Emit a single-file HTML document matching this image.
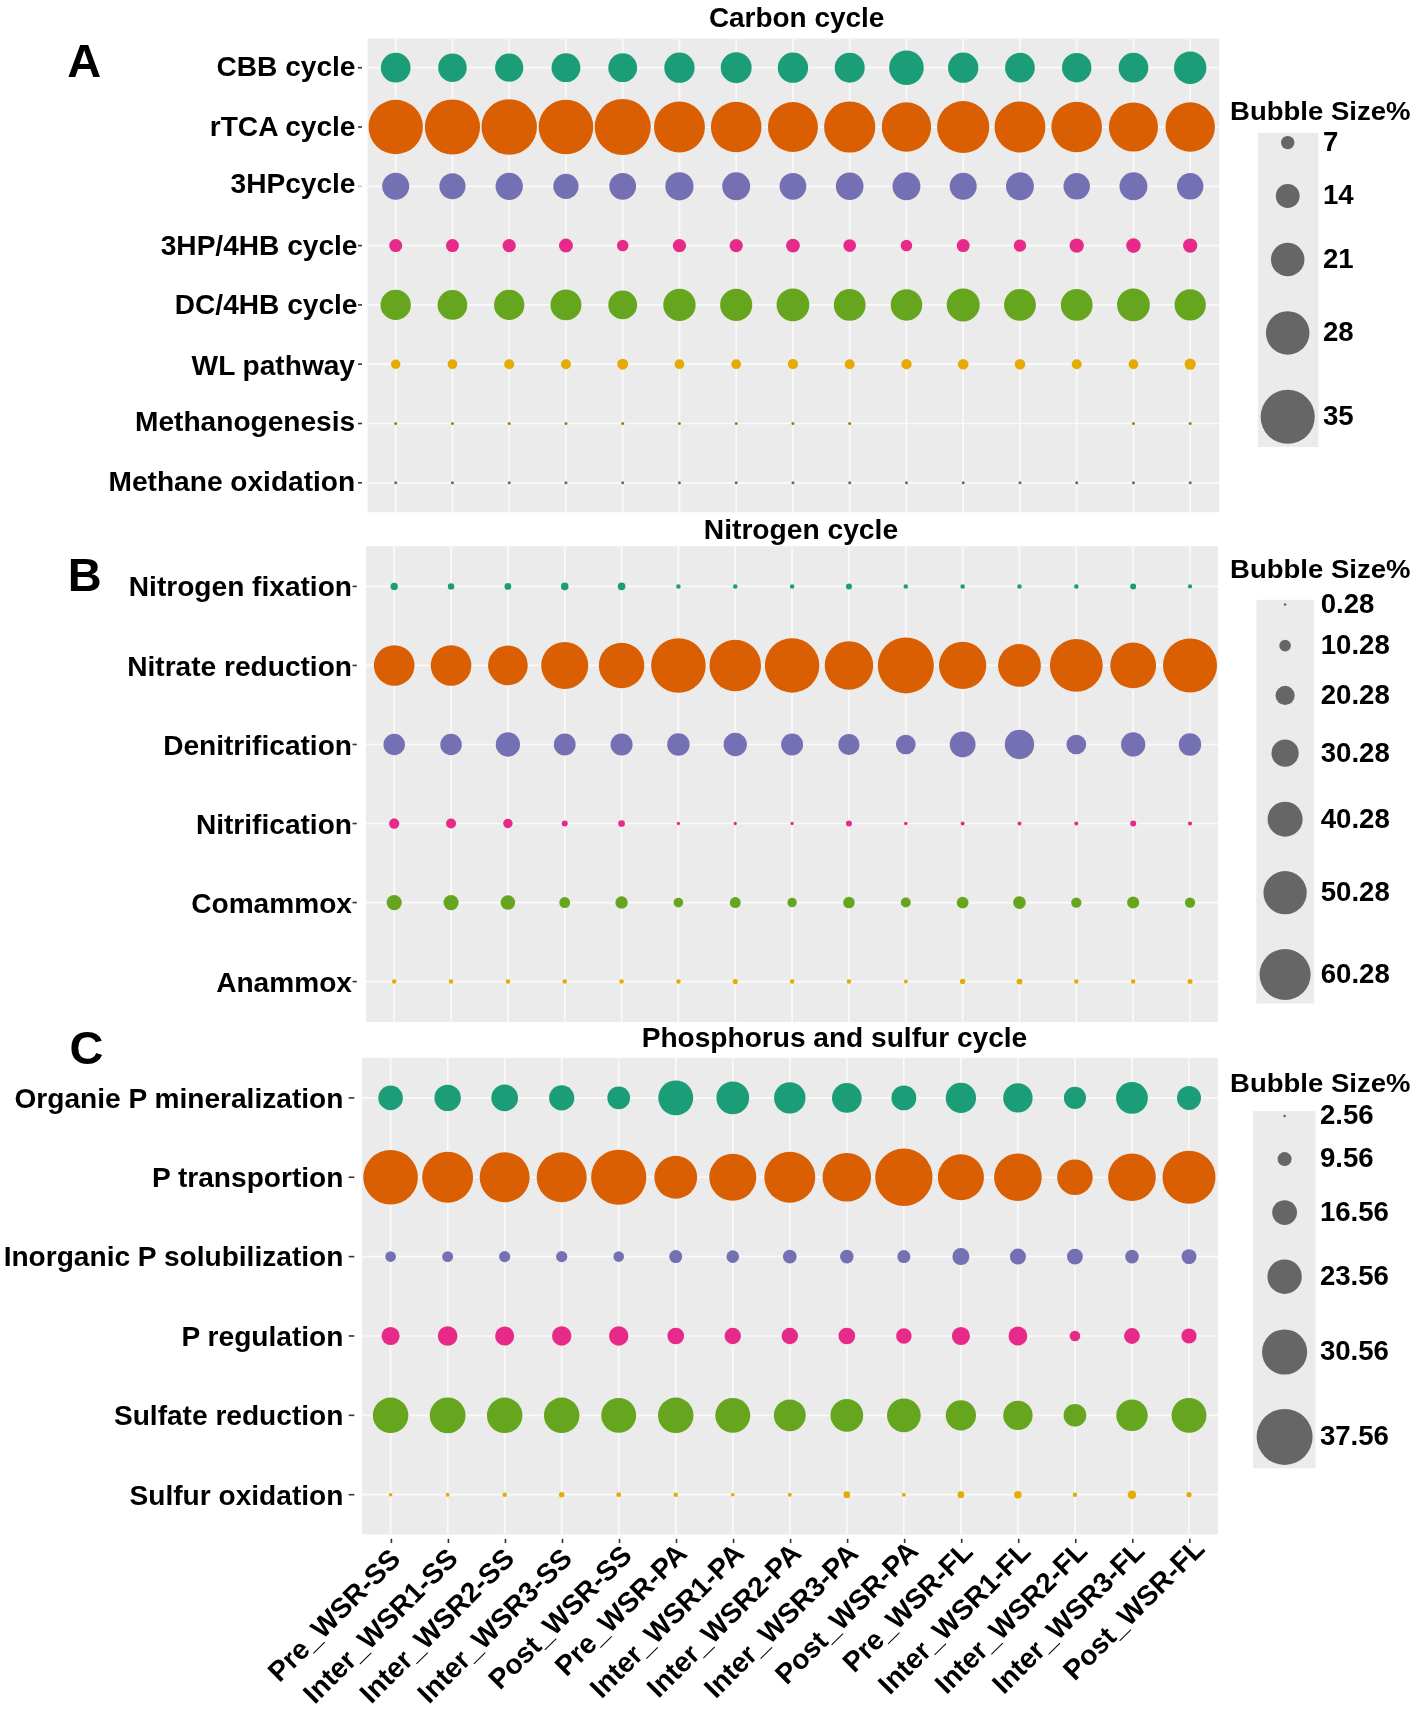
<!DOCTYPE html>
<html><head><meta charset="utf-8"><title>Bubble plot</title>
<style>html,body{margin:0;padding:0;background:#fff;} body{width:1418px;height:1709px;overflow:hidden;}</style>
</head><body>
<svg width="1418" height="1709" viewBox="0 0 1418 1709" style="display:block;will-change:transform">
<rect x="0" y="0" width="1418" height="1709" fill="#FFFFFF"/>
<g font-family="Liberation Sans, sans-serif" font-weight="bold" fill="#000000">
<rect x="367.5" y="38.5" width="851.8" height="473.7" fill="#EBEBEB"/>
<line x1="395.7" y1="38.5" x2="395.7" y2="512.2" stroke="#FAFAFA" stroke-width="1.7"/>
<line x1="452.45" y1="38.5" x2="452.45" y2="512.2" stroke="#FAFAFA" stroke-width="1.7"/>
<line x1="509.2" y1="38.5" x2="509.2" y2="512.2" stroke="#FAFAFA" stroke-width="1.7"/>
<line x1="565.95" y1="38.5" x2="565.95" y2="512.2" stroke="#FAFAFA" stroke-width="1.7"/>
<line x1="622.7" y1="38.5" x2="622.7" y2="512.2" stroke="#FAFAFA" stroke-width="1.7"/>
<line x1="679.45" y1="38.5" x2="679.45" y2="512.2" stroke="#FAFAFA" stroke-width="1.7"/>
<line x1="736.2" y1="38.5" x2="736.2" y2="512.2" stroke="#FAFAFA" stroke-width="1.7"/>
<line x1="792.95" y1="38.5" x2="792.95" y2="512.2" stroke="#FAFAFA" stroke-width="1.7"/>
<line x1="849.7" y1="38.5" x2="849.7" y2="512.2" stroke="#FAFAFA" stroke-width="1.7"/>
<line x1="906.45" y1="38.5" x2="906.45" y2="512.2" stroke="#FAFAFA" stroke-width="1.7"/>
<line x1="963.2" y1="38.5" x2="963.2" y2="512.2" stroke="#FAFAFA" stroke-width="1.7"/>
<line x1="1019.95" y1="38.5" x2="1019.95" y2="512.2" stroke="#FAFAFA" stroke-width="1.7"/>
<line x1="1076.7" y1="38.5" x2="1076.7" y2="512.2" stroke="#FAFAFA" stroke-width="1.7"/>
<line x1="1133.45" y1="38.5" x2="1133.45" y2="512.2" stroke="#FAFAFA" stroke-width="1.7"/>
<line x1="1190.2" y1="38.5" x2="1190.2" y2="512.2" stroke="#FAFAFA" stroke-width="1.7"/>
<line x1="367.5" y1="67.7" x2="1219.3" y2="67.7" stroke="#FAFAFA" stroke-width="1.7"/>
<line x1="367.5" y1="127" x2="1219.3" y2="127" stroke="#FAFAFA" stroke-width="1.7"/>
<line x1="367.5" y1="186.3" x2="1219.3" y2="186.3" stroke="#FAFAFA" stroke-width="1.7"/>
<line x1="367.5" y1="245.6" x2="1219.3" y2="245.6" stroke="#FAFAFA" stroke-width="1.7"/>
<line x1="367.5" y1="304.9" x2="1219.3" y2="304.9" stroke="#FAFAFA" stroke-width="1.7"/>
<line x1="367.5" y1="364.2" x2="1219.3" y2="364.2" stroke="#FAFAFA" stroke-width="1.7"/>
<line x1="367.5" y1="423.5" x2="1219.3" y2="423.5" stroke="#FAFAFA" stroke-width="1.7"/>
<line x1="367.5" y1="482.8" x2="1219.3" y2="482.8" stroke="#FAFAFA" stroke-width="1.7"/>
<circle cx="395.7" cy="67.7" r="14.85" fill="#1B9E77"/>
<circle cx="452.45" cy="67.7" r="14.25" fill="#1B9E77"/>
<circle cx="509.2" cy="67.7" r="14.1" fill="#1B9E77"/>
<circle cx="565.95" cy="67.7" r="14.4" fill="#1B9E77"/>
<circle cx="622.7" cy="67.7" r="14.4" fill="#1B9E77"/>
<circle cx="679.45" cy="67.7" r="15.15" fill="#1B9E77"/>
<circle cx="736.2" cy="67.7" r="15.45" fill="#1B9E77"/>
<circle cx="792.95" cy="67.7" r="15.15" fill="#1B9E77"/>
<circle cx="849.7" cy="67.7" r="15" fill="#1B9E77"/>
<circle cx="906.45" cy="67.7" r="17.3" fill="#1B9E77"/>
<circle cx="963.2" cy="67.7" r="15.15" fill="#1B9E77"/>
<circle cx="1019.95" cy="67.7" r="14.85" fill="#1B9E77"/>
<circle cx="1076.7" cy="67.7" r="14.7" fill="#1B9E77"/>
<circle cx="1133.45" cy="67.7" r="14.85" fill="#1B9E77"/>
<circle cx="1190.2" cy="67.7" r="16.2" fill="#1B9E77"/>
<circle cx="395.7" cy="127" r="27.15" fill="#D95F02"/>
<circle cx="452.45" cy="127" r="27.6" fill="#D95F02"/>
<circle cx="509.2" cy="127" r="27.75" fill="#D95F02"/>
<circle cx="565.95" cy="127" r="27.3" fill="#D95F02"/>
<circle cx="622.7" cy="127" r="28.05" fill="#D95F02"/>
<circle cx="679.45" cy="127" r="25.45" fill="#D95F02"/>
<circle cx="736.2" cy="127" r="25.3" fill="#D95F02"/>
<circle cx="792.95" cy="127" r="25" fill="#D95F02"/>
<circle cx="849.7" cy="127" r="25.6" fill="#D95F02"/>
<circle cx="906.45" cy="127" r="24.7" fill="#D95F02"/>
<circle cx="963.2" cy="127" r="26.1" fill="#D95F02"/>
<circle cx="1019.95" cy="127" r="25.45" fill="#D95F02"/>
<circle cx="1076.7" cy="127" r="25.3" fill="#D95F02"/>
<circle cx="1133.45" cy="127" r="24.55" fill="#D95F02"/>
<circle cx="1190.2" cy="127" r="24.7" fill="#D95F02"/>
<circle cx="395.7" cy="186.3" r="13.5" fill="#7570B3"/>
<circle cx="452.45" cy="186.3" r="13.05" fill="#7570B3"/>
<circle cx="509.2" cy="186.3" r="13.65" fill="#7570B3"/>
<circle cx="565.95" cy="186.3" r="12.6" fill="#7570B3"/>
<circle cx="622.7" cy="186.3" r="13.35" fill="#7570B3"/>
<circle cx="679.45" cy="186.3" r="14.1" fill="#7570B3"/>
<circle cx="736.2" cy="186.3" r="13.95" fill="#7570B3"/>
<circle cx="792.95" cy="186.3" r="13.35" fill="#7570B3"/>
<circle cx="849.7" cy="186.3" r="13.8" fill="#7570B3"/>
<circle cx="906.45" cy="186.3" r="13.95" fill="#7570B3"/>
<circle cx="963.2" cy="186.3" r="13.5" fill="#7570B3"/>
<circle cx="1019.95" cy="186.3" r="13.95" fill="#7570B3"/>
<circle cx="1076.7" cy="186.3" r="13.2" fill="#7570B3"/>
<circle cx="1133.45" cy="186.3" r="13.95" fill="#7570B3"/>
<circle cx="1190.2" cy="186.3" r="13.2" fill="#7570B3"/>
<circle cx="395.7" cy="245.6" r="6.5" fill="#E7298A"/>
<circle cx="452.45" cy="245.6" r="6.5" fill="#E7298A"/>
<circle cx="509.2" cy="245.6" r="6.65" fill="#E7298A"/>
<circle cx="565.95" cy="245.6" r="7" fill="#E7298A"/>
<circle cx="622.7" cy="245.6" r="5.75" fill="#E7298A"/>
<circle cx="679.45" cy="245.6" r="6.65" fill="#E7298A"/>
<circle cx="736.2" cy="245.6" r="6.65" fill="#E7298A"/>
<circle cx="792.95" cy="245.6" r="6.9" fill="#E7298A"/>
<circle cx="849.7" cy="245.6" r="6.35" fill="#E7298A"/>
<circle cx="906.45" cy="245.6" r="5.75" fill="#E7298A"/>
<circle cx="963.2" cy="245.6" r="6.5" fill="#E7298A"/>
<circle cx="1019.95" cy="245.6" r="6.2" fill="#E7298A"/>
<circle cx="1076.7" cy="245.6" r="7.15" fill="#E7298A"/>
<circle cx="1133.45" cy="245.6" r="7.3" fill="#E7298A"/>
<circle cx="1190.2" cy="245.6" r="7.15" fill="#E7298A"/>
<circle cx="395.7" cy="304.9" r="15.15" fill="#66A61E"/>
<circle cx="452.45" cy="304.9" r="14.85" fill="#66A61E"/>
<circle cx="509.2" cy="304.9" r="15.15" fill="#66A61E"/>
<circle cx="565.95" cy="304.9" r="15.45" fill="#66A61E"/>
<circle cx="622.7" cy="304.9" r="14.4" fill="#66A61E"/>
<circle cx="679.45" cy="304.9" r="16.2" fill="#66A61E"/>
<circle cx="736.2" cy="304.9" r="16.05" fill="#66A61E"/>
<circle cx="792.95" cy="304.9" r="16.35" fill="#66A61E"/>
<circle cx="849.7" cy="304.9" r="15.9" fill="#66A61E"/>
<circle cx="906.45" cy="304.9" r="15.75" fill="#66A61E"/>
<circle cx="963.2" cy="304.9" r="16.5" fill="#66A61E"/>
<circle cx="1019.95" cy="304.9" r="15.9" fill="#66A61E"/>
<circle cx="1076.7" cy="304.9" r="15.9" fill="#66A61E"/>
<circle cx="1133.45" cy="304.9" r="16.35" fill="#66A61E"/>
<circle cx="1190.2" cy="304.9" r="15.6" fill="#66A61E"/>
<circle cx="395.7" cy="364.2" r="4.7" fill="#E6AB02"/>
<circle cx="452.45" cy="364.2" r="4.85" fill="#E6AB02"/>
<circle cx="509.2" cy="364.2" r="5" fill="#E6AB02"/>
<circle cx="565.95" cy="364.2" r="5" fill="#E6AB02"/>
<circle cx="622.7" cy="364.2" r="5.45" fill="#E6AB02"/>
<circle cx="679.45" cy="364.2" r="4.85" fill="#E6AB02"/>
<circle cx="736.2" cy="364.2" r="4.85" fill="#E6AB02"/>
<circle cx="792.95" cy="364.2" r="5.1" fill="#E6AB02"/>
<circle cx="849.7" cy="364.2" r="5" fill="#E6AB02"/>
<circle cx="906.45" cy="364.2" r="5.15" fill="#E6AB02"/>
<circle cx="963.2" cy="364.2" r="5.3" fill="#E6AB02"/>
<circle cx="1019.95" cy="364.2" r="5.3" fill="#E6AB02"/>
<circle cx="1076.7" cy="364.2" r="5" fill="#E6AB02"/>
<circle cx="1133.45" cy="364.2" r="4.85" fill="#E6AB02"/>
<circle cx="1190.2" cy="364.2" r="5.6" fill="#E6AB02"/>
<circle cx="395.7" cy="423.5" r="1.5" fill="#A6761D"/>
<circle cx="452.45" cy="423.5" r="1.5" fill="#A6761D"/>
<circle cx="509.2" cy="423.5" r="1.5" fill="#A6761D"/>
<circle cx="565.95" cy="423.5" r="1.5" fill="#A6761D"/>
<circle cx="622.7" cy="423.5" r="1.5" fill="#A6761D"/>
<circle cx="679.45" cy="423.5" r="1.5" fill="#A6761D"/>
<circle cx="736.2" cy="423.5" r="1.5" fill="#A6761D"/>
<circle cx="792.95" cy="423.5" r="1.5" fill="#A6761D"/>
<circle cx="849.7" cy="423.5" r="1.5" fill="#A6761D"/>
<circle cx="1133.45" cy="423.5" r="1.5" fill="#A6761D"/>
<circle cx="1190.2" cy="423.5" r="1.5" fill="#A6761D"/>
<circle cx="395.7" cy="482.8" r="1.5" fill="#666666"/>
<circle cx="452.45" cy="482.8" r="1.5" fill="#666666"/>
<circle cx="509.2" cy="482.8" r="1.5" fill="#666666"/>
<circle cx="565.95" cy="482.8" r="1.5" fill="#666666"/>
<circle cx="622.7" cy="482.8" r="1.5" fill="#666666"/>
<circle cx="679.45" cy="482.8" r="1.5" fill="#666666"/>
<circle cx="736.2" cy="482.8" r="1.5" fill="#666666"/>
<circle cx="792.95" cy="482.8" r="1.5" fill="#666666"/>
<circle cx="849.7" cy="482.8" r="1.5" fill="#666666"/>
<circle cx="906.45" cy="482.8" r="1.5" fill="#666666"/>
<circle cx="963.2" cy="482.8" r="1.5" fill="#666666"/>
<circle cx="1019.95" cy="482.8" r="1.5" fill="#666666"/>
<circle cx="1076.7" cy="482.8" r="1.5" fill="#666666"/>
<circle cx="1133.45" cy="482.8" r="1.5" fill="#666666"/>
<circle cx="1190.2" cy="482.8" r="1.5" fill="#666666"/>
<text x="355.5" y="75.7" font-size="28.1" text-anchor="end">CBB cycle</text>
<line x1="358" y1="67.7" x2="362" y2="67.7" stroke="#333333" stroke-width="1.6"/>
<text x="355.5" y="135.6" font-size="28.1" text-anchor="end">rTCA cycle</text>
<line x1="358" y1="127" x2="362" y2="127" stroke="#333333" stroke-width="1.6"/>
<text x="355.5" y="192.6" font-size="28.1" text-anchor="end">3HPcycle</text>
<line x1="358" y1="186.3" x2="362" y2="186.3" stroke="#C8C8C8" stroke-width="1.6"/>
<text x="357.5" y="255.4" font-size="28.1" text-anchor="end">3HP/4HB cycle</text>
<line x1="358" y1="245.6" x2="362" y2="245.6" stroke="#333333" stroke-width="1.6"/>
<text x="357.5" y="313.8" font-size="28.1" text-anchor="end">DC/4HB cycle</text>
<line x1="358" y1="304.9" x2="362" y2="304.9" stroke="#333333" stroke-width="1.6"/>
<text x="355" y="374.6" font-size="28.1" text-anchor="end">WL pathway</text>
<line x1="358" y1="364.2" x2="362" y2="364.2" stroke="#333333" stroke-width="1.6"/>
<text x="355.2" y="431" font-size="28.1" text-anchor="end">Methanogenesis</text>
<line x1="358" y1="423.5" x2="362" y2="423.5" stroke="#333333" stroke-width="1.6"/>
<text x="355.2" y="491.4" font-size="28.1" text-anchor="end">Methane oxidation</text>
<line x1="358" y1="482.8" x2="362" y2="482.8" stroke="#333333" stroke-width="1.6"/>
<text x="796.65" y="27.1" font-size="27.95" text-anchor="middle">Carbon cycle</text>
<text x="67.3" y="76.6" font-size="47">A</text>
<text x="1230" y="119.6" font-size="26" textLength="180.5" lengthAdjust="spacingAndGlyphs">Bubble Size%</text>
<rect x="1257.9" y="132.9" width="60.6" height="314.2" fill="#EBEBEB"/>
<circle cx="1287.7" cy="142.6" r="6.7" fill="#666666"/>
<text x="1322.9" y="150.9" font-size="27.6">7</text>
<circle cx="1287.7" cy="196" r="11.9" fill="#666666"/>
<text x="1322.9" y="204.3" font-size="27.6">14</text>
<circle cx="1287.7" cy="259.5" r="16.75" fill="#666666"/>
<text x="1322.9" y="267.8" font-size="27.6">21</text>
<circle cx="1287.7" cy="332.9" r="21.75" fill="#666666"/>
<text x="1322.9" y="341.2" font-size="27.6">28</text>
<circle cx="1287.7" cy="416.8" r="27.05" fill="#666666"/>
<text x="1322.9" y="425.1" font-size="27.6">35</text>
<rect x="366" y="546.2" width="852" height="475.8" fill="#EBEBEB"/>
<line x1="394.2" y1="546.2" x2="394.2" y2="1022" stroke="#FAFAFA" stroke-width="1.7"/>
<line x1="451.04" y1="546.2" x2="451.04" y2="1022" stroke="#FAFAFA" stroke-width="1.7"/>
<line x1="507.89" y1="546.2" x2="507.89" y2="1022" stroke="#FAFAFA" stroke-width="1.7"/>
<line x1="564.73" y1="546.2" x2="564.73" y2="1022" stroke="#FAFAFA" stroke-width="1.7"/>
<line x1="621.57" y1="546.2" x2="621.57" y2="1022" stroke="#FAFAFA" stroke-width="1.7"/>
<line x1="678.41" y1="546.2" x2="678.41" y2="1022" stroke="#FAFAFA" stroke-width="1.7"/>
<line x1="735.26" y1="546.2" x2="735.26" y2="1022" stroke="#FAFAFA" stroke-width="1.7"/>
<line x1="792.1" y1="546.2" x2="792.1" y2="1022" stroke="#FAFAFA" stroke-width="1.7"/>
<line x1="848.94" y1="546.2" x2="848.94" y2="1022" stroke="#FAFAFA" stroke-width="1.7"/>
<line x1="905.79" y1="546.2" x2="905.79" y2="1022" stroke="#FAFAFA" stroke-width="1.7"/>
<line x1="962.63" y1="546.2" x2="962.63" y2="1022" stroke="#FAFAFA" stroke-width="1.7"/>
<line x1="1019.47" y1="546.2" x2="1019.47" y2="1022" stroke="#FAFAFA" stroke-width="1.7"/>
<line x1="1076.31" y1="546.2" x2="1076.31" y2="1022" stroke="#FAFAFA" stroke-width="1.7"/>
<line x1="1133.16" y1="546.2" x2="1133.16" y2="1022" stroke="#FAFAFA" stroke-width="1.7"/>
<line x1="1190" y1="546.2" x2="1190" y2="1022" stroke="#FAFAFA" stroke-width="1.7"/>
<line x1="366" y1="586.4" x2="1218" y2="586.4" stroke="#FAFAFA" stroke-width="1.7"/>
<line x1="366" y1="665.44" x2="1218" y2="665.44" stroke="#FAFAFA" stroke-width="1.7"/>
<line x1="366" y1="744.48" x2="1218" y2="744.48" stroke="#FAFAFA" stroke-width="1.7"/>
<line x1="366" y1="823.52" x2="1218" y2="823.52" stroke="#FAFAFA" stroke-width="1.7"/>
<line x1="366" y1="902.56" x2="1218" y2="902.56" stroke="#FAFAFA" stroke-width="1.7"/>
<line x1="366" y1="981.6" x2="1218" y2="981.6" stroke="#FAFAFA" stroke-width="1.7"/>
<circle cx="394.2" cy="586.4" r="3.65" fill="#1B9E77"/>
<circle cx="451.04" cy="586.4" r="3.2" fill="#1B9E77"/>
<circle cx="507.89" cy="586.4" r="3.35" fill="#1B9E77"/>
<circle cx="564.73" cy="586.4" r="3.8" fill="#1B9E77"/>
<circle cx="621.57" cy="586.4" r="3.8" fill="#1B9E77"/>
<circle cx="678.41" cy="586.4" r="2.25" fill="#1B9E77"/>
<circle cx="735.26" cy="586.4" r="2.25" fill="#1B9E77"/>
<circle cx="792.1" cy="586.4" r="2.25" fill="#1B9E77"/>
<circle cx="848.94" cy="586.4" r="3" fill="#1B9E77"/>
<circle cx="905.79" cy="586.4" r="2.25" fill="#1B9E77"/>
<circle cx="962.63" cy="586.4" r="2.25" fill="#1B9E77"/>
<circle cx="1019.47" cy="586.4" r="2.25" fill="#1B9E77"/>
<circle cx="1076.31" cy="586.4" r="2.25" fill="#1B9E77"/>
<circle cx="1133.16" cy="586.4" r="3" fill="#1B9E77"/>
<circle cx="1190" cy="586.4" r="2.1" fill="#1B9E77"/>
<circle cx="394.2" cy="665.44" r="20.3" fill="#D95F02"/>
<circle cx="451.04" cy="665.44" r="20.3" fill="#D95F02"/>
<circle cx="507.89" cy="665.44" r="19.85" fill="#D95F02"/>
<circle cx="564.73" cy="665.44" r="23.5" fill="#D95F02"/>
<circle cx="621.57" cy="665.44" r="22.75" fill="#D95F02"/>
<circle cx="678.41" cy="665.44" r="27.3" fill="#D95F02"/>
<circle cx="735.26" cy="665.44" r="25.75" fill="#D95F02"/>
<circle cx="792.1" cy="665.44" r="27.25" fill="#D95F02"/>
<circle cx="848.94" cy="665.44" r="24.25" fill="#D95F02"/>
<circle cx="905.79" cy="665.44" r="28.05" fill="#D95F02"/>
<circle cx="962.63" cy="665.44" r="23.65" fill="#D95F02"/>
<circle cx="1019.47" cy="665.44" r="21.4" fill="#D95F02"/>
<circle cx="1076.31" cy="665.44" r="26.4" fill="#D95F02"/>
<circle cx="1133.16" cy="665.44" r="22.9" fill="#D95F02"/>
<circle cx="1190" cy="665.44" r="27" fill="#D95F02"/>
<circle cx="394.2" cy="744.48" r="10.75" fill="#7570B3"/>
<circle cx="451.04" cy="744.48" r="10.75" fill="#7570B3"/>
<circle cx="507.89" cy="744.48" r="12.15" fill="#7570B3"/>
<circle cx="564.73" cy="744.48" r="10.9" fill="#7570B3"/>
<circle cx="621.57" cy="744.48" r="11.05" fill="#7570B3"/>
<circle cx="678.41" cy="744.48" r="11.2" fill="#7570B3"/>
<circle cx="735.26" cy="744.48" r="11.65" fill="#7570B3"/>
<circle cx="792.1" cy="744.48" r="11" fill="#7570B3"/>
<circle cx="848.94" cy="744.48" r="10.6" fill="#7570B3"/>
<circle cx="905.79" cy="744.48" r="9.85" fill="#7570B3"/>
<circle cx="962.63" cy="744.48" r="12.9" fill="#7570B3"/>
<circle cx="1019.47" cy="744.48" r="14.7" fill="#7570B3"/>
<circle cx="1076.31" cy="744.48" r="9.85" fill="#7570B3"/>
<circle cx="1133.16" cy="744.48" r="12.15" fill="#7570B3"/>
<circle cx="1190" cy="744.48" r="11.2" fill="#7570B3"/>
<circle cx="394.2" cy="823.52" r="5.15" fill="#E7298A"/>
<circle cx="451.04" cy="823.52" r="5" fill="#E7298A"/>
<circle cx="507.89" cy="823.52" r="4.7" fill="#E7298A"/>
<circle cx="564.73" cy="823.52" r="3" fill="#E7298A"/>
<circle cx="621.57" cy="823.52" r="3.35" fill="#E7298A"/>
<circle cx="678.41" cy="823.52" r="1.65" fill="#E7298A"/>
<circle cx="735.26" cy="823.52" r="1.65" fill="#E7298A"/>
<circle cx="792.1" cy="823.52" r="1.65" fill="#E7298A"/>
<circle cx="848.94" cy="823.52" r="3" fill="#E7298A"/>
<circle cx="905.79" cy="823.52" r="1.8" fill="#E7298A"/>
<circle cx="962.63" cy="823.52" r="1.95" fill="#E7298A"/>
<circle cx="1019.47" cy="823.52" r="1.95" fill="#E7298A"/>
<circle cx="1076.31" cy="823.52" r="1.95" fill="#E7298A"/>
<circle cx="1133.16" cy="823.52" r="3" fill="#E7298A"/>
<circle cx="1190" cy="823.52" r="2.1" fill="#E7298A"/>
<circle cx="394.2" cy="902.56" r="7.6" fill="#66A61E"/>
<circle cx="451.04" cy="902.56" r="7.6" fill="#66A61E"/>
<circle cx="507.89" cy="902.56" r="7.3" fill="#66A61E"/>
<circle cx="564.73" cy="902.56" r="5.45" fill="#66A61E"/>
<circle cx="621.57" cy="902.56" r="6.2" fill="#66A61E"/>
<circle cx="678.41" cy="902.56" r="4.85" fill="#66A61E"/>
<circle cx="735.26" cy="902.56" r="5.45" fill="#66A61E"/>
<circle cx="792.1" cy="902.56" r="4.7" fill="#66A61E"/>
<circle cx="848.94" cy="902.56" r="5.75" fill="#66A61E"/>
<circle cx="905.79" cy="902.56" r="5" fill="#66A61E"/>
<circle cx="962.63" cy="902.56" r="5.9" fill="#66A61E"/>
<circle cx="1019.47" cy="902.56" r="6.35" fill="#66A61E"/>
<circle cx="1076.31" cy="902.56" r="5.15" fill="#66A61E"/>
<circle cx="1133.16" cy="902.56" r="6.05" fill="#66A61E"/>
<circle cx="1190" cy="902.56" r="5.15" fill="#66A61E"/>
<circle cx="394.2" cy="981.6" r="2.25" fill="#E6AB02"/>
<circle cx="451.04" cy="981.6" r="2.25" fill="#E6AB02"/>
<circle cx="507.89" cy="981.6" r="2.25" fill="#E6AB02"/>
<circle cx="564.73" cy="981.6" r="2.25" fill="#E6AB02"/>
<circle cx="621.57" cy="981.6" r="2.25" fill="#E6AB02"/>
<circle cx="678.41" cy="981.6" r="2.25" fill="#E6AB02"/>
<circle cx="735.26" cy="981.6" r="2.6" fill="#E6AB02"/>
<circle cx="792.1" cy="981.6" r="2.25" fill="#E6AB02"/>
<circle cx="848.94" cy="981.6" r="2.25" fill="#E6AB02"/>
<circle cx="905.79" cy="981.6" r="2" fill="#E6AB02"/>
<circle cx="962.63" cy="981.6" r="2.75" fill="#E6AB02"/>
<circle cx="1019.47" cy="981.6" r="2.9" fill="#E6AB02"/>
<circle cx="1076.31" cy="981.6" r="2.25" fill="#E6AB02"/>
<circle cx="1133.16" cy="981.6" r="2.25" fill="#E6AB02"/>
<circle cx="1190" cy="981.6" r="2.5" fill="#E6AB02"/>
<text x="352" y="596" font-size="28.1" text-anchor="end">Nitrogen fixation</text>
<line x1="352.5" y1="586.4" x2="356.8" y2="586.4" stroke="#333333" stroke-width="1.6"/>
<text x="352" y="675.8" font-size="28.1" text-anchor="end">Nitrate reduction</text>
<line x1="352.5" y1="665.44" x2="356.8" y2="665.44" stroke="#333333" stroke-width="1.6"/>
<text x="352" y="754.9" font-size="28.1" text-anchor="end">Denitrification</text>
<line x1="352.5" y1="744.48" x2="356.8" y2="744.48" stroke="#333333" stroke-width="1.6"/>
<text x="352" y="834.1" font-size="28.1" text-anchor="end">Nitrification</text>
<line x1="352.5" y1="823.52" x2="356.8" y2="823.52" stroke="#333333" stroke-width="1.6"/>
<text x="352" y="912.6" font-size="28.1" text-anchor="end">Comammox</text>
<line x1="352.5" y1="902.56" x2="356.8" y2="902.56" stroke="#333333" stroke-width="1.6"/>
<text x="352" y="992.4" font-size="28.1" text-anchor="end">Anammox</text>
<line x1="352.5" y1="981.6" x2="356.8" y2="981.6" stroke="#333333" stroke-width="1.6"/>
<text x="800.95" y="539.2" font-size="28.2" text-anchor="middle">Nitrogen cycle</text>
<text x="67.7" y="590.6" font-size="47">B</text>
<text x="1230" y="577.7" font-size="26" textLength="180.5" lengthAdjust="spacingAndGlyphs">Bubble Size%</text>
<rect x="1256.3" y="599.8" width="57.9" height="403.8" fill="#EBEBEB"/>
<circle cx="1285.1" cy="604.6" r="1.3" fill="#666666"/>
<text x="1320.7" y="612.9" font-size="27.6">0.28</text>
<circle cx="1285.1" cy="645.6" r="5.8" fill="#666666"/>
<text x="1320.7" y="653.9" font-size="27.6">10.28</text>
<circle cx="1285.1" cy="695.4" r="9.55" fill="#666666"/>
<text x="1320.7" y="703.7" font-size="27.6">20.28</text>
<circle cx="1285.1" cy="753.2" r="13.6" fill="#666666"/>
<text x="1320.7" y="761.5" font-size="27.6">30.28</text>
<circle cx="1285.1" cy="819.2" r="17.5" fill="#666666"/>
<text x="1320.7" y="827.5" font-size="27.6">40.28</text>
<circle cx="1285.1" cy="892.7" r="21.65" fill="#666666"/>
<text x="1320.7" y="901" font-size="27.6">50.28</text>
<circle cx="1285.1" cy="974.5" r="25.55" fill="#666666"/>
<text x="1320.7" y="982.8" font-size="27.6">60.28</text>
<rect x="362.1" y="1057.9" width="855.8" height="476.6" fill="#EBEBEB"/>
<line x1="390.6" y1="1057.9" x2="390.6" y2="1534.5" stroke="#FAFAFA" stroke-width="1.7"/>
<line x1="447.63" y1="1057.9" x2="447.63" y2="1534.5" stroke="#FAFAFA" stroke-width="1.7"/>
<line x1="504.66" y1="1057.9" x2="504.66" y2="1534.5" stroke="#FAFAFA" stroke-width="1.7"/>
<line x1="561.69" y1="1057.9" x2="561.69" y2="1534.5" stroke="#FAFAFA" stroke-width="1.7"/>
<line x1="618.71" y1="1057.9" x2="618.71" y2="1534.5" stroke="#FAFAFA" stroke-width="1.7"/>
<line x1="675.74" y1="1057.9" x2="675.74" y2="1534.5" stroke="#FAFAFA" stroke-width="1.7"/>
<line x1="732.77" y1="1057.9" x2="732.77" y2="1534.5" stroke="#FAFAFA" stroke-width="1.7"/>
<line x1="789.8" y1="1057.9" x2="789.8" y2="1534.5" stroke="#FAFAFA" stroke-width="1.7"/>
<line x1="846.83" y1="1057.9" x2="846.83" y2="1534.5" stroke="#FAFAFA" stroke-width="1.7"/>
<line x1="903.86" y1="1057.9" x2="903.86" y2="1534.5" stroke="#FAFAFA" stroke-width="1.7"/>
<line x1="960.89" y1="1057.9" x2="960.89" y2="1534.5" stroke="#FAFAFA" stroke-width="1.7"/>
<line x1="1017.91" y1="1057.9" x2="1017.91" y2="1534.5" stroke="#FAFAFA" stroke-width="1.7"/>
<line x1="1074.94" y1="1057.9" x2="1074.94" y2="1534.5" stroke="#FAFAFA" stroke-width="1.7"/>
<line x1="1131.97" y1="1057.9" x2="1131.97" y2="1534.5" stroke="#FAFAFA" stroke-width="1.7"/>
<line x1="1189" y1="1057.9" x2="1189" y2="1534.5" stroke="#FAFAFA" stroke-width="1.7"/>
<line x1="362.1" y1="1097.9" x2="1217.9" y2="1097.9" stroke="#FAFAFA" stroke-width="1.7"/>
<line x1="362.1" y1="1177.26" x2="1217.9" y2="1177.26" stroke="#FAFAFA" stroke-width="1.7"/>
<line x1="362.1" y1="1256.62" x2="1217.9" y2="1256.62" stroke="#FAFAFA" stroke-width="1.7"/>
<line x1="362.1" y1="1335.98" x2="1217.9" y2="1335.98" stroke="#FAFAFA" stroke-width="1.7"/>
<line x1="362.1" y1="1415.34" x2="1217.9" y2="1415.34" stroke="#FAFAFA" stroke-width="1.7"/>
<line x1="362.1" y1="1494.7" x2="1217.9" y2="1494.7" stroke="#FAFAFA" stroke-width="1.7"/>
<circle cx="390.6" cy="1097.9" r="12.3" fill="#1B9E77"/>
<circle cx="447.63" cy="1097.9" r="13.2" fill="#1B9E77"/>
<circle cx="504.66" cy="1097.9" r="13.35" fill="#1B9E77"/>
<circle cx="561.69" cy="1097.9" r="12.6" fill="#1B9E77"/>
<circle cx="618.71" cy="1097.9" r="11.35" fill="#1B9E77"/>
<circle cx="675.74" cy="1097.9" r="17.45" fill="#1B9E77"/>
<circle cx="732.77" cy="1097.9" r="16.35" fill="#1B9E77"/>
<circle cx="789.8" cy="1097.9" r="15.7" fill="#1B9E77"/>
<circle cx="846.83" cy="1097.9" r="14.85" fill="#1B9E77"/>
<circle cx="903.86" cy="1097.9" r="12.45" fill="#1B9E77"/>
<circle cx="960.89" cy="1097.9" r="15.15" fill="#1B9E77"/>
<circle cx="1017.91" cy="1097.9" r="14.7" fill="#1B9E77"/>
<circle cx="1074.94" cy="1097.9" r="11.05" fill="#1B9E77"/>
<circle cx="1131.97" cy="1097.9" r="15.9" fill="#1B9E77"/>
<circle cx="1189" cy="1097.9" r="12" fill="#1B9E77"/>
<circle cx="390.6" cy="1177.26" r="27.3" fill="#D95F02"/>
<circle cx="447.63" cy="1177.26" r="25.45" fill="#D95F02"/>
<circle cx="504.66" cy="1177.26" r="25" fill="#D95F02"/>
<circle cx="561.69" cy="1177.26" r="25" fill="#D95F02"/>
<circle cx="618.71" cy="1177.26" r="27.6" fill="#D95F02"/>
<circle cx="675.74" cy="1177.26" r="21.4" fill="#D95F02"/>
<circle cx="732.77" cy="1177.26" r="23.5" fill="#D95F02"/>
<circle cx="789.8" cy="1177.26" r="25.45" fill="#D95F02"/>
<circle cx="846.83" cy="1177.26" r="24.25" fill="#D95F02"/>
<circle cx="903.86" cy="1177.26" r="28.65" fill="#D95F02"/>
<circle cx="960.89" cy="1177.26" r="23.05" fill="#D95F02"/>
<circle cx="1017.91" cy="1177.26" r="23.8" fill="#D95F02"/>
<circle cx="1074.94" cy="1177.26" r="17.75" fill="#D95F02"/>
<circle cx="1131.97" cy="1177.26" r="23.8" fill="#D95F02"/>
<circle cx="1189" cy="1177.26" r="26.5" fill="#D95F02"/>
<circle cx="390.6" cy="1256.62" r="5.3" fill="#7570B3"/>
<circle cx="447.63" cy="1256.62" r="5.45" fill="#7570B3"/>
<circle cx="504.66" cy="1256.62" r="5.6" fill="#7570B3"/>
<circle cx="561.69" cy="1256.62" r="5.6" fill="#7570B3"/>
<circle cx="618.71" cy="1256.62" r="5.3" fill="#7570B3"/>
<circle cx="675.74" cy="1256.62" r="6.5" fill="#7570B3"/>
<circle cx="732.77" cy="1256.62" r="6.35" fill="#7570B3"/>
<circle cx="789.8" cy="1256.62" r="6.9" fill="#7570B3"/>
<circle cx="846.83" cy="1256.62" r="6.8" fill="#7570B3"/>
<circle cx="903.86" cy="1256.62" r="6.5" fill="#7570B3"/>
<circle cx="960.89" cy="1256.62" r="8.5" fill="#7570B3"/>
<circle cx="1017.91" cy="1256.62" r="8" fill="#7570B3"/>
<circle cx="1074.94" cy="1256.62" r="7.9" fill="#7570B3"/>
<circle cx="1131.97" cy="1256.62" r="6.8" fill="#7570B3"/>
<circle cx="1189" cy="1256.62" r="7.45" fill="#7570B3"/>
<circle cx="390.6" cy="1335.98" r="9.1" fill="#E7298A"/>
<circle cx="447.63" cy="1335.98" r="9.85" fill="#E7298A"/>
<circle cx="504.66" cy="1335.98" r="9.55" fill="#E7298A"/>
<circle cx="561.69" cy="1335.98" r="9.7" fill="#E7298A"/>
<circle cx="618.71" cy="1335.98" r="9.7" fill="#E7298A"/>
<circle cx="675.74" cy="1335.98" r="8.35" fill="#E7298A"/>
<circle cx="732.77" cy="1335.98" r="8.2" fill="#E7298A"/>
<circle cx="789.8" cy="1335.98" r="8.25" fill="#E7298A"/>
<circle cx="846.83" cy="1335.98" r="8.35" fill="#E7298A"/>
<circle cx="903.86" cy="1335.98" r="7.75" fill="#E7298A"/>
<circle cx="960.89" cy="1335.98" r="9.1" fill="#E7298A"/>
<circle cx="1017.91" cy="1335.98" r="9.4" fill="#E7298A"/>
<circle cx="1074.94" cy="1335.98" r="5.3" fill="#E7298A"/>
<circle cx="1131.97" cy="1335.98" r="7.9" fill="#E7298A"/>
<circle cx="1189" cy="1335.98" r="7.6" fill="#E7298A"/>
<circle cx="390.6" cy="1415.34" r="17.75" fill="#66A61E"/>
<circle cx="447.63" cy="1415.34" r="17.9" fill="#66A61E"/>
<circle cx="504.66" cy="1415.34" r="17.75" fill="#66A61E"/>
<circle cx="561.69" cy="1415.34" r="17.75" fill="#66A61E"/>
<circle cx="618.71" cy="1415.34" r="17.45" fill="#66A61E"/>
<circle cx="675.74" cy="1415.34" r="17.75" fill="#66A61E"/>
<circle cx="732.77" cy="1415.34" r="17.45" fill="#66A61E"/>
<circle cx="789.8" cy="1415.34" r="15.95" fill="#66A61E"/>
<circle cx="846.83" cy="1415.34" r="16.35" fill="#66A61E"/>
<circle cx="903.86" cy="1415.34" r="16.85" fill="#66A61E"/>
<circle cx="960.89" cy="1415.34" r="15.15" fill="#66A61E"/>
<circle cx="1017.91" cy="1415.34" r="14.7" fill="#66A61E"/>
<circle cx="1074.94" cy="1415.34" r="11.35" fill="#66A61E"/>
<circle cx="1131.97" cy="1415.34" r="15.75" fill="#66A61E"/>
<circle cx="1189" cy="1415.34" r="17.45" fill="#66A61E"/>
<circle cx="390.6" cy="1494.7" r="1.8" fill="#E6AB02"/>
<circle cx="447.63" cy="1494.7" r="1.95" fill="#E6AB02"/>
<circle cx="504.66" cy="1494.7" r="2.25" fill="#E6AB02"/>
<circle cx="561.69" cy="1494.7" r="2.75" fill="#E6AB02"/>
<circle cx="618.71" cy="1494.7" r="2.4" fill="#E6AB02"/>
<circle cx="675.74" cy="1494.7" r="2.25" fill="#E6AB02"/>
<circle cx="732.77" cy="1494.7" r="1.8" fill="#E6AB02"/>
<circle cx="789.8" cy="1494.7" r="1.95" fill="#E6AB02"/>
<circle cx="846.83" cy="1494.7" r="3.35" fill="#E6AB02"/>
<circle cx="903.86" cy="1494.7" r="1.95" fill="#E6AB02"/>
<circle cx="960.89" cy="1494.7" r="3.35" fill="#E6AB02"/>
<circle cx="1017.91" cy="1494.7" r="3.8" fill="#E6AB02"/>
<circle cx="1074.94" cy="1494.7" r="2.25" fill="#E6AB02"/>
<circle cx="1131.97" cy="1494.7" r="4.25" fill="#E6AB02"/>
<circle cx="1189" cy="1494.7" r="2.6" fill="#E6AB02"/>
<text x="343.4" y="1108.2" font-size="28.1" text-anchor="end">Organie P mineralization</text>
<line x1="348.7" y1="1097.9" x2="354.3" y2="1097.9" stroke="#333333" stroke-width="1.6"/>
<text x="343.4" y="1187.2" font-size="28.1" text-anchor="end">P transportion</text>
<line x1="348.7" y1="1177.26" x2="354.3" y2="1177.26" stroke="#333333" stroke-width="1.6"/>
<text x="343.4" y="1266.2" font-size="28.1" text-anchor="end">Inorganic P solubilization</text>
<line x1="348.7" y1="1256.62" x2="354.3" y2="1256.62" stroke="#333333" stroke-width="1.6"/>
<text x="343.4" y="1346" font-size="28.1" text-anchor="end">P regulation</text>
<line x1="348.7" y1="1335.98" x2="354.3" y2="1335.98" stroke="#333333" stroke-width="1.6"/>
<text x="343.4" y="1425" font-size="28.1" text-anchor="end">Sulfate reduction</text>
<line x1="348.7" y1="1415.34" x2="354.3" y2="1415.34" stroke="#333333" stroke-width="1.6"/>
<text x="343.4" y="1504.6" font-size="28.1" text-anchor="end">Sulfur oxidation</text>
<line x1="348.7" y1="1494.7" x2="354.3" y2="1494.7" stroke="#333333" stroke-width="1.6"/>
<text x="834.45" y="1046.7" font-size="28.1" text-anchor="middle">Phosphorus and sulfur cycle</text>
<text x="69.6" y="1063.8" font-size="47">C</text>
<text x="1230" y="1092.3" font-size="26" textLength="180.5" lengthAdjust="spacingAndGlyphs">Bubble Size%</text>
<rect x="1253.1" y="1111.1" width="62.4" height="357.2" fill="#EBEBEB"/>
<circle cx="1284.6" cy="1116" r="1.3" fill="#666666"/>
<text x="1319.9" y="1124.3" font-size="27.6">2.56</text>
<circle cx="1284.6" cy="1159.1" r="7" fill="#666666"/>
<text x="1319.9" y="1167.4" font-size="27.6">9.56</text>
<circle cx="1284.6" cy="1212.6" r="12.4" fill="#666666"/>
<text x="1319.9" y="1220.9" font-size="27.6">16.56</text>
<circle cx="1284.6" cy="1276.7" r="17.2" fill="#666666"/>
<text x="1319.9" y="1285" font-size="27.6">23.56</text>
<circle cx="1284.6" cy="1352" r="22.6" fill="#666666"/>
<text x="1319.9" y="1360.3" font-size="27.6">30.56</text>
<circle cx="1284.6" cy="1436.9" r="28" fill="#666666"/>
<text x="1319.9" y="1445.2" font-size="27.6">37.56</text>
<line x1="391.4" y1="1538.8" x2="391.4" y2="1543" stroke="#333333" stroke-width="1.6"/>
<text transform="translate(387.9,1546.5) rotate(-45)" x="0" y="20" font-size="28.1" text-anchor="end">Pre_WSR-SS</text>
<line x1="448.43" y1="1538.8" x2="448.43" y2="1543" stroke="#333333" stroke-width="1.6"/>
<text transform="translate(445.3,1546.2) rotate(-45)" x="0" y="20" font-size="28.1" text-anchor="end">Inter_WSR1-SS</text>
<line x1="505.46" y1="1538.8" x2="505.46" y2="1543" stroke="#333333" stroke-width="1.6"/>
<text transform="translate(501.8,1546) rotate(-45)" x="0" y="20" font-size="28.1" text-anchor="end">Inter_WSR2-SS</text>
<line x1="562.49" y1="1538.8" x2="562.49" y2="1543" stroke="#333333" stroke-width="1.6"/>
<text transform="translate(559.5,1546) rotate(-45)" x="0" y="20" font-size="28.1" text-anchor="end">Inter_WSR3-SS</text>
<line x1="619.51" y1="1538.8" x2="619.51" y2="1543" stroke="#333333" stroke-width="1.6"/>
<text transform="translate(619.4,1543.1) rotate(-45)" x="0" y="20" font-size="28.1" text-anchor="end">Post_WSR-SS</text>
<line x1="676.54" y1="1538.8" x2="676.54" y2="1543" stroke="#333333" stroke-width="1.6"/>
<text transform="translate(674.5,1541.1) rotate(-45)" x="0" y="20" font-size="28.1" text-anchor="end">Pre_WSR-PA</text>
<line x1="733.57" y1="1538.8" x2="733.57" y2="1543" stroke="#333333" stroke-width="1.6"/>
<text transform="translate(731.5,1541.1) rotate(-45)" x="0" y="20" font-size="28.1" text-anchor="end">Inter_WSR1-PA</text>
<line x1="790.6" y1="1538.8" x2="790.6" y2="1543" stroke="#333333" stroke-width="1.6"/>
<text transform="translate(788.6,1540.7) rotate(-45)" x="0" y="20" font-size="28.1" text-anchor="end">Inter_WSR2-PA</text>
<line x1="847.63" y1="1538.8" x2="847.63" y2="1543" stroke="#333333" stroke-width="1.6"/>
<text transform="translate(845.8,1541.1) rotate(-45)" x="0" y="20" font-size="28.1" text-anchor="end">Inter_WSR3-PA</text>
<line x1="904.66" y1="1538.8" x2="904.66" y2="1543" stroke="#333333" stroke-width="1.6"/>
<text transform="translate(905.7,1538.5) rotate(-45)" x="0" y="20" font-size="28.1" text-anchor="end">Post_WSR-PA</text>
<line x1="961.69" y1="1538.8" x2="961.69" y2="1543" stroke="#333333" stroke-width="1.6"/>
<text transform="translate(960.3,1539.3) rotate(-45)" x="0" y="20" font-size="28.1" text-anchor="end">Pre_WSR-FL</text>
<line x1="1018.71" y1="1538.8" x2="1018.71" y2="1543" stroke="#333333" stroke-width="1.6"/>
<text transform="translate(1018,1539.3) rotate(-45)" x="0" y="20" font-size="28.1" text-anchor="end">Inter_WSR1-FL</text>
<line x1="1075.74" y1="1538.8" x2="1075.74" y2="1543" stroke="#333333" stroke-width="1.6"/>
<text transform="translate(1074.7,1538.7) rotate(-45)" x="0" y="20" font-size="28.1" text-anchor="end">Inter_WSR2-FL</text>
<line x1="1132.77" y1="1538.8" x2="1132.77" y2="1543" stroke="#333333" stroke-width="1.6"/>
<text transform="translate(1132,1538.7) rotate(-45)" x="0" y="20" font-size="28.1" text-anchor="end">Inter_WSR3-FL</text>
<line x1="1189.8" y1="1538.8" x2="1189.8" y2="1543" stroke="#333333" stroke-width="1.6"/>
<text transform="translate(1191.9,1536.2) rotate(-45)" x="0" y="20" font-size="28.1" text-anchor="end">Post_WSR-FL</text>
</g></svg>
</body></html>
